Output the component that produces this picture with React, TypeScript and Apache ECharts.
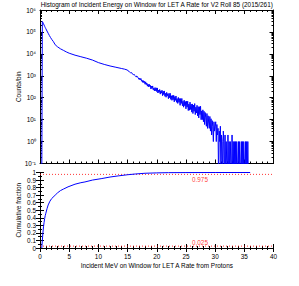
import React, { useEffect, useRef } from "react";
import * as echarts from "echarts";

const TITLE = "Histogram of Incident Energy on Window for LET A Rate for V2 Roll 85 (2015/261)";
const X_NAME = "Incident MeV on Window for LET A Rate from Protons";
const Y_TOP_NAME = "Counts/bin";
const Y_BOTTOM_NAME = "Cumulative fraction";

// Histogram, smooth low-energy part (MeV, counts/bin)
const headEnergy = [0.3, 0.4, 0.5, 0.6, 0.7, 0.8, 0.9, 1.0, 1.2, 1.4, 1.6, 1.8, 2.0, 2.3, 2.6, 3.0, 3.5, 4.0, 4.5, 5.0, 6.0, 7.0, 8.0, 9.0, 10.0, 11.0, 12.0, 13.0, 14.0, 14.5];
const headCounts = [0, 300000, 270000, 235000, 205000, 180000, 158000, 140000, 110000, 87000, 69000, 56000, 46000, 36000, 26000, 21000, 17000, 14500, 12300, 10700, 8700, 7400, 6300, 5200, 4000, 3300, 2800, 2450, 2140, 2000];

// Histogram, noisy high-energy part: bins of 0.1 MeV starting at 15.0 MeV
const tailStart = 15.0;
const tailBinWidth = 0.1;
const tailCounts = [
  1820, 1648, 1714, 1535, 1560, 1380, 1403, 1393, 1233, 1253,
  1122, 1191, 1052, 1079, 931, 977, 863, 916, 818, 830,
  670, 785, 661, 743, 564, 621, 501, 600, 484, 556,
  413, 530, 396, 468, 336, 413, 316, 413, 322, 365,
  251, 339, 266, 344, 229, 273, 206, 289, 209, 282,
  190, 279, 164, 222, 175, 237, 146, 206, 162, 219,
  124, 199, 139, 204, 116, 157, 105, 175, 122, 153,
  90, 157, 100, 160, 84, 123, 76, 126, 81, 129,
  65, 113, 76, 120, 62, 91, 55, 103, 62, 91,
  45, 92, 55, 92, 43, 69, 37, 77, 43, 67,
  31, 69, 37, 69, 26, 51, 27, 63, 29, 51,
  22, 52, 19, 46, 24, 54, 17, 37, 20, 45,
  15, 39, 12, 39, 17, 41, 10, 25, 10, 28,
  8, 24, 6, 21, 12, 5, 19, 4, 15, 7,
  4, 14, 3, 11, 2, 9, 5, 1, 8, 3,
  5, 8, 1, 6, 2, 4, 0, 3, 1, 5,
  0, 2, 1, 0, 3, 1, 0, 2, 0, 1,
  1, 0, 2, 0, 1, 0, 1, 1, 0, 2,
  0, 1, 0, 1, 0, 1, 0, 1, 1, 0,
  1, 0, 1, 1, 0, 1, 0, 1, 0, 1,
  1, 0, 1, 0, 1, 0, 1, 0,
];
// zero-count bins are drawn at this floor (below the axis minimum, clipped)
const ZERO_FLOOR = 0.01;

// Cumulative fraction
const cumEnergy = [0.3, 0.4, 0.5, 0.6, 0.7, 0.8, 0.9, 1.0, 1.2, 1.4, 1.7, 2.0, 2.6, 3.0, 3.5, 4.0, 4.8, 6.0, 7.0, 7.7, 9.0, 10.6, 12.0, 13.4, 15.0, 16.3, 18.0, 20.0, 22.0, 25.0, 30.0, 36.0];
const cumFraction = [0, 0.1, 0.2, 0.28, 0.34, 0.39, 0.43, 0.46, 0.52, 0.57, 0.62, 0.655, 0.7, 0.73, 0.76, 0.78, 0.81, 0.845, 0.865, 0.875, 0.9, 0.92, 0.94, 0.955, 0.97, 0.98, 0.99, 0.995, 0.998, 0.999, 1.0, 1.0];

const thresholds = [0.975, 0.025];
const thresholdLabelE = 27.4;

const xTicks = { min: 0, max: 40, interval: 5 };
const yLogRange = { min: 0.1, max: 1e6 };

const FONT = "Liberation Sans";
const FS = 6.4;
const SUP: Record<string, string> = { "-": "⁻", "0": "⁰", "1": "¹", "2": "²", "3": "³", "4": "⁴", "5": "⁵", "6": "⁶", "7": "⁷", "8": "⁸", "9": "⁹" };
const toSup = (n: number) => String(n).split("").map((c) => SUP[c] || c).join("");

export default function App() {
  const ref = useRef<HTMLDivElement>(null);
  useEffect(() => {
    if (!ref.current) return;
    const chart = echarts.init(ref.current, null, { renderer: "svg" });

    const histData: [number, number][] = [];
    headEnergy.forEach((e, i) => histData.push([e, headCounts[i] > 0 ? headCounts[i] : ZERO_FLOOR]));
    tailCounts.forEach((c, i) => histData.push([+(tailStart + i * tailBinWidth).toFixed(1), c > 0 ? c : ZERO_FLOOR]));
    const cumData = cumEnergy.map((e, i) => [e, cumFraction[i]]);

    const minorLog: number[] = [];
    for (let d = -1; d <= 5; d++) for (let k = 2; k <= 9; k++) minorLog.push(+(k * Math.pow(10, d)).toPrecision(3));

    const black = "#000";
    const red = "#ff0000";
    const nameStyle = { fontFamily: FONT, fontSize: FS, color: black };
    const baseX = (gridIndex: number, position: string, labels: boolean) => ({
      type: "value",
      gridIndex,
      position,
      ...xTicks,
      axisLine: { show: true, lineStyle: { color: black, width: 1 } },
      axisTick: { show: true, inside: true, length: 4, lineStyle: { color: black } },
      minorTick: { show: true, splitNumber: 5, length: 2, lineStyle: { color: black } },
      axisLabel: { show: labels, fontFamily: FONT, fontSize: FS, color: black, margin: 5 },
      splitLine: { show: false },
      minorSplitLine: { show: false },
    });
    const logY = (position: string, major: boolean, labels: boolean) => ({
      type: "log",
      gridIndex: 0,
      position,
      logBase: 10,
      ...yLogRange,
      interval: 1,
      axisLine: { show: major, lineStyle: { color: black, width: 1 } },
      axisTick: major
        ? { show: true, inside: true, length: 4, lineStyle: { color: black } }
        : { show: true, inside: true, length: 2, customValues: minorLog, lineStyle: { color: black } },
      axisLabel: {
        show: labels,
        fontFamily: FONT,
        fontSize: FS,
        color: black,
        margin: 4,
        formatter: (v: number) => "10" + toSup(Math.round(Math.log10(v))),
      },
      splitLine: { show: false },
      ...(labels
        ? { name: Y_TOP_NAME, nameLocation: "middle", nameGap: 19, nameMoveOverlap: false, nameTextStyle: nameStyle }
        : {}),
    });
    const linY = (position: string, labels: boolean) => ({
      type: "value",
      gridIndex: 1,
      position,
      min: 0,
      max: 1,
      interval: 0.1,
      axisLine: { show: true, lineStyle: { color: black, width: 1 } },
      axisTick: { show: true, inside: true, length: 4, lineStyle: { color: black } },
      minorTick: { show: true, splitNumber: 2, length: 2, lineStyle: { color: black } },
      axisLabel: { show: labels, fontFamily: FONT, fontSize: FS, color: black, margin: 4 },
      splitLine: { show: false },
      minorSplitLine: { show: false },
      ...(labels
        ? { name: Y_BOTTOM_NAME, nameLocation: "middle", nameGap: 19, nameMoveOverlap: false, nameTextStyle: nameStyle }
        : {}),
    });

    const xBottom: any = baseX(1, "bottom", true);
    xBottom.name = X_NAME;
    xBottom.nameLocation = "middle";
    xBottom.nameGap = 14;
    xBottom.nameMoveOverlap = false;
    xBottom.nameTextStyle = nameStyle;

    chart.setOption({
      animation: false,
      backgroundColor: "#fff",
      title: {
        text: TITLE,
        left: 156.75,
        top: 1.5,
        padding: 0,
        textAlign: "center",
        textStyle: { fontFamily: FONT, fontSize: FS, fontWeight: "normal", color: black },
      },
      grid: [
        { left: 40, top: 10, width: 233.5, height: 153.5 },
        { left: 40, top: 172.5, width: 233.5, height: 75.5 },
      ],
      xAxis: [baseX(0, "bottom", false), baseX(0, "top", false), xBottom, baseX(1, "top", false)],
      yAxis: [
        logY("left", true, true),
        logY("left", false, false),
        logY("right", true, false),
        logY("right", false, false),
        linY("left", true),
        linY("right", false),
      ],
      series: [
        {
          type: "line",
          xAxisIndex: 0,
          yAxisIndex: 0,
          data: histData,
          showSymbol: false,
          clip: true,
          lineStyle: { color: "#0000ff", width: 1 },
        },
        ...thresholds.map((t) => ({
          type: "line",
          xAxisIndex: 2,
          yAxisIndex: 4,
          data: [
            [xTicks.min, t],
            [xTicks.max, t],
          ],
          showSymbol: false,
          silent: true,
          lineStyle: { color: red, type: [1, 2], width: 0.8 },
        })),
        {
          type: "line",
          xAxisIndex: 2,
          yAxisIndex: 4,
          data: cumData,
          showSymbol: false,
          clip: true,
          lineStyle: { color: "#0000ff", width: 1 },
        },
        {
          type: "scatter",
          xAxisIndex: 2,
          yAxisIndex: 4,
          symbolSize: 0,
          silent: true,
          data: [
            { value: [thresholdLabelE, thresholds[0]], label: { position: "bottom", distance: 2 } },
            { value: [thresholdLabelE, thresholds[1]], label: { position: "top", distance: 1 } },
          ],
          label: {
            show: true,
            formatter: (p: any) => String(p.value[1]),
            fontFamily: FONT,
            fontSize: FS,
            color: red,
          },
        },
      ],
    });
    return () => chart.dispose();
  }, []);
  return <div ref={ref} style={{ position: "absolute", left: 0, top: 0, width: 299, height: 286 }} />;
}
